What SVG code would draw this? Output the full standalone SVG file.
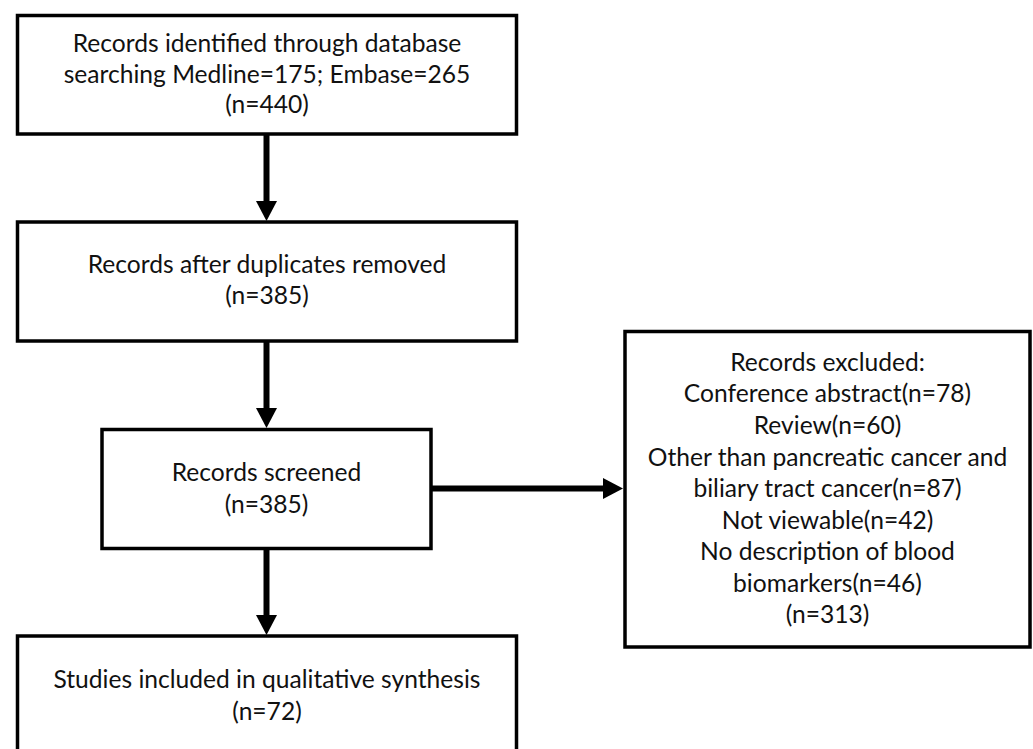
<svg xmlns="http://www.w3.org/2000/svg" width="1033" height="749" viewBox="0 0 1033 749">
<defs>
<style>
.box{fill:#fff;stroke:#000;stroke-width:3.5}
.t{font-family:Lato,"Liberation Sans",sans-serif;font-size:24.6px;fill:#111;text-anchor:middle}
.c{stroke:#000;stroke-width:6;fill:none}
.h{fill:#000}
</style>
</defs>
<rect width="1033" height="749" fill="#fff"/>
<g id="connectors">
<line class="c" x1="266.5" y1="134" x2="266.5" y2="202"/>
<polygon class="h" points="256,201 277,201 266.5,221"/>
<line class="c" x1="266.5" y1="341" x2="266.5" y2="409"/>
<polygon class="h" points="256,408 277,408 266.5,428"/>
<line class="c" x1="266.5" y1="548.5" x2="266.5" y2="616"/>
<polygon class="h" points="256,615 277,615 266.5,635"/>
<line class="c" x1="431" y1="488.5" x2="604" y2="488.5"/>
<polygon class="h" points="603,478 603,499 623,488.5"/>
</g>
<g id="node1">
<rect class="box" x="17.5" y="15.5" width="499" height="118.5"/>
<text class="t" x="267" y="52">Records identified through database</text>
<text class="t" x="267" y="82.5">searching Medline=175; Embase=265</text>
<text class="t" x="267" y="113">(n=440)</text>
</g>
<g id="node2">
<rect class="box" x="17.5" y="222" width="499" height="119"/>
<text class="t" x="267" y="273">Records after duplicates removed</text>
<text class="t" x="267" y="303.5">(n=385)</text>
</g>
<g id="node3">
<rect class="box" x="102" y="429.5" width="329" height="119"/>
<text class="t" x="266.5" y="481">Records screened</text>
<text class="t" x="266.5" y="513">(n=385)</text>
</g>
<g id="node4">
<rect class="box" x="17.5" y="636" width="499" height="200"/>
<text class="t" x="267" y="688">Studies included in qualitative synthesis</text>
<text class="t" x="267" y="720">(n=72)</text>
</g>
<g id="node5">
<rect class="box" x="625" y="331.5" width="405" height="315.5"/>
<text class="t" x="827.5" y="370.7">Records excluded:</text>
<text class="t" x="827.5" y="402">Conference abstract(n=78)</text>
<text class="t" x="827.5" y="434">Review(n=60)</text>
<text class="t" x="827.5" y="465.5">Other than pancreatic cancer and</text>
<text class="t" x="827.5" y="497">biliary tract cancer(n=87)</text>
<text class="t" x="827.5" y="528.5">Not viewable(n=42)</text>
<text class="t" x="827.5" y="560">No description of blood</text>
<text class="t" x="827.5" y="591.5">biomarkers(n=46)</text>
<text class="t" x="827.5" y="623">(n=313)</text>
</g>
</svg>
